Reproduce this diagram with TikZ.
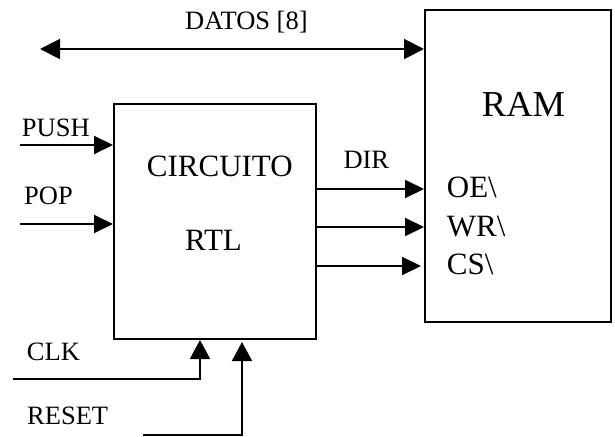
\documentclass[tikz,border=0pt]{standalone}
\usepackage{fontspec}
\setmainfont{Liberation Serif}
\usetikzlibrary{arrows.meta}
\tikzset{
  blockbox/.style={draw, line width=2pt, minimum width=#1, inner sep=0pt},
  lbl/.style={anchor=base west, inner sep=0pt, font=\fontsize{26.5}{30}\selectfont},
  biglbl/.style={anchor=base west, inner sep=0pt, font=\fontsize{31}{36}\selectfont},
  sig/.style={line width=2pt, -{Triangle[length=19pt, width=18pt]}},
  bus/.style={line width=2pt, {Triangle[length=20pt, width=20pt]}-{Triangle[length=20pt, width=20pt]}}
}
\begin{document}
\begin{tikzpicture}[x=1pt, y=-1pt]
\useasboundingbox (0,0) rectangle (615,436);
% blocks
\node[blockbox=202pt, minimum height=235pt] (rtl) at (215,221.5) {};
\node[blockbox=186pt, minimum height=312pt] (ram) at (518,166) {};
% texts inside
\node[biglbl] (tcirc) at (146.7,176) {CIRCUITO};
\node[biglbl] (trtl) at (185,250) {RTL};
\node[anchor=base west, inner sep=0pt, font=\fontsize{36.5}{40}\selectfont] (tram) at (481.7,116) {RAM};
\node[biglbl] (toe) at (446.7,197.7) {OE\textbackslash};
\node[biglbl] (twr) at (446.7,236) {WR\textbackslash};
\node[biglbl] (tcs) at (446.7,274) {CS\textbackslash};
% labels
\node[lbl] (tdatos) at (185,29.4) {DATOS [8]};
\node[lbl] (tpush) at (21.7,136) {PUSH};
\node[lbl] (tpop) at (24,204) {POP};
\node[lbl] (tdir) at (343.3,168.3) {DIR};
\node[lbl] (tclk) at (26.7,360) {CLK};
\node[lbl] (treset) at (27,424) {RESET};
% free ends
\coordinate (datosL) at (40,49);
\coordinate (pushin) at (20,145);
\coordinate (popin) at (20,224);
\coordinate (clkin) at (13,379);
\coordinate (resetin) at (143,435);
\coordinate (o1) at (316,189);
\coordinate (o2) at (316,227);
\coordinate (o3) at (316,266);
% connectors
\draw[bus] (datosL) -- (datosL -| ram.west);
\draw[sig] (pushin) -- (pushin -| rtl.west);
\draw[sig] (popin) -- (popin -| rtl.west);
\draw[sig] (o1 -| rtl.east) -- (o1 -| ram.west);
\draw[sig] (o2 -| rtl.east) -- (o2 -| ram.west);
\draw[sig, shorten >=3pt] (o3 -| rtl.east) -- (o3 -| ram.west);
\draw[sig, -{Triangle[length=19pt, width=20pt]}] (clkin) -| (200,0 |- rtl.south);
\draw[sig, -{Triangle[length=19pt, width=20pt]}, shorten >=2pt] (resetin) -| (242,0 |- rtl.south);
\end{tikzpicture}
\end{document}
